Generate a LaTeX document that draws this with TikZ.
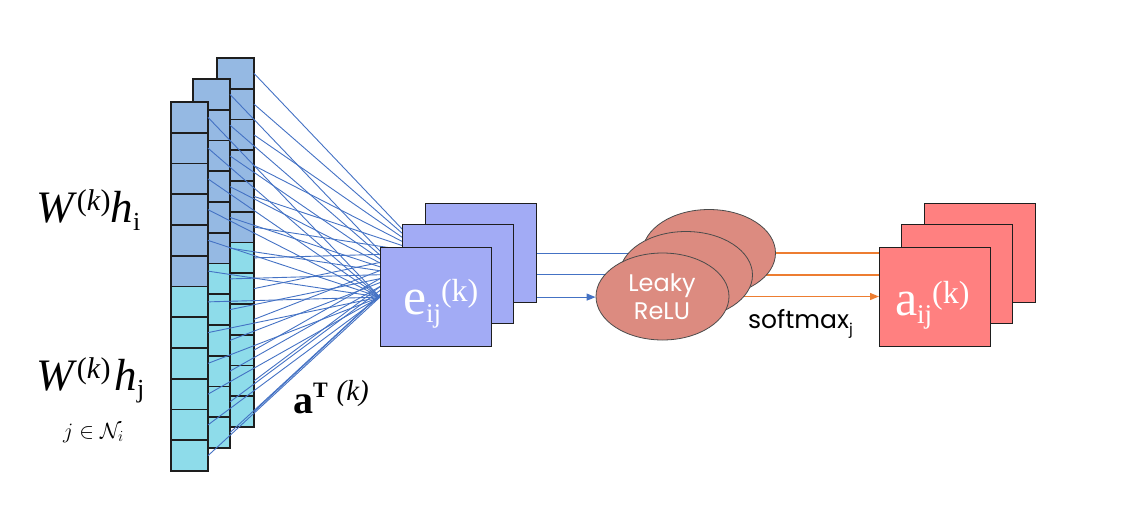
\RequirePackage{fix-cm}
\documentclass[tikz,border=0pt]{standalone}
\usepackage{fontspec}
\setmainfont{Liberation Serif}
\newfontfamily\popfont{Poppins}
\usetikzlibrary{shapes.geometric,arrows.meta}
\pgfdeclarelayer{cols}
\pgfdeclarelayer{wires}
\pgfsetlayers{cols,wires,main}
\definecolor{colBlue}{RGB}{149,185,227}
\definecolor{colCyan}{RGB}{142,220,234}
\definecolor{eFill}{RGB}{162,171,245}
\definecolor{lFill}{RGB}{220,139,128}
\definecolor{aFill}{RGB}{255,128,128}
\definecolor{wireBlue}{RGB}{68,114,196}
\definecolor{wireOrange}{RGB}{237,125,49}
\definecolor{edgeGray}{RGB}{30,30,30}
\newcommand\fs[1]{\fontsize{#1}{#1}\selectfont}
\begin{document}
\begin{tikzpicture}[x=1pt,y=-1pt,
  cell/.style={rectangle,minimum width=37pt,minimum height=30.75pt,inner sep=0pt,outer sep=0pt,anchor=north west},
  cellborder/.style={draw=edgeGray,line width=1.7pt},
  ebox/.style={rectangle,draw=edgeGray,line width=1.2pt,fill=eFill,minimum width=111pt,minimum height=99pt,inner sep=0pt,anchor=north west},
  abox/.style={rectangle,draw=edgeGray,line width=1.2pt,fill=aFill,minimum width=111pt,minimum height=99pt,inner sep=0pt,anchor=north west},
  lrelu/.style={ellipse,draw=edgeGray!80,line width=0.8pt,fill=lFill,minimum width=133pt,minimum height=87pt,inner sep=0pt},
  wire/.style={draw=wireBlue,line width=0.9pt},
  owire/.style={draw=wireOrange,line width=1.2pt},
  tip/.style={-{Triangle[length=9pt,width=7pt]}},
  txt/.style={inner sep=0pt,outer sep=0pt,anchor=base west}]
\useasboundingbox (0,0) rectangle (1121,525);

% columns of cells
\begin{pgfonlayer}{cols}
\foreach \k/\x/\y in {2/217/58, 1/193/79, 0/171/102} {
  \foreach \i in {1,...,12} {
    \pgfmathsetmacro\yy{\y+(\i-1)*30.75}
    \ifnum\i<7 \def\fc{colBlue}\else\def\fc{colCyan}\fi
    \node[cell,fill=\fc] (c\k-\i) at (\x,\yy) {};
  }
  \foreach \i in {1,...,12} {
    \draw[cellborder] (c\k-\i.north west) rectangle (c\k-\i.south east);
  }
}
\end{pgfonlayer}

% e boxes
\node[ebox] (e2) at (425,203) {};
\node[ebox] (e1) at (402,224) {};
\node[ebox] (e0) at (380,247) {};

% LeakyReLU ellipses
\node[lrelu] (l2) at (709,253) {};
\node[lrelu] (l1) at (686,275) {};
\node[lrelu] (l0) at (662.5,296.5) {};

% a boxes
\node[abox] (a2) at (924,203) {};
\node[abox] (a1) at (901,224) {};
\node[abox] (a0) at (879,247) {};

% wires
\begin{pgfonlayer}{wires}
\foreach \k in {0,1,2} {
  \foreach \i in {1,...,12} {
    \draw[wire] (c\k-\i.east) -- (e\k.west);
  }
}
\draw[wire,line width=1pt,tip] (e0.east) -- (e0.east -| l0.west);
\draw[wire,line width=1pt,tip] (e1.east) -- (e1.east -| l1.west);
\draw[wire,line width=1pt,tip] (e2.east) -- (e2.east -| l2.west);
\draw[owire,tip] (l0.east) -- (l0.east -| a0.west);
\draw[owire,tip] (l1.east) -- (l1.east -| a1.west);
\draw[owire,tip] (l2.east) -- (l2.east -| a2.west);
\end{pgfonlayer}

% labels
\node[txt] (lblWi) at (36,222) {\fs{45}\textit{W}\raisebox{12pt}{\fs{30}(\textit{k})}\textit{h}\raisebox{-8pt}{\fs{26}i}};
\node[txt] (lblWj) at (36,390) {\fs{45}\textit{W}\raisebox{12pt}{\fs{30}(\textit{k})}\hspace{4pt}\textit{h}\raisebox{-7pt}{\fs{26}j}};
\node[txt] (lblN) at (63,438) {\fs{22}$j \in \mathcal{N}_i$};
\node[txt,text=white] (lblE) at (403,314) {\fs{52}e\raisebox{-8pt}{\fs{27}ij}\raisebox{13pt}{\fs{32}(k)}};
\node[txt,text=white] (lblA) at (895,315) {\fs{50}a\raisebox{-8pt}{\fs{27}ij}\raisebox{12pt}{\fs{32}(k)}};
\node[txt] (lblAT) at (293,413) {\fs{40}\textbf{a}\raisebox{16pt}{\fs{22}\textbf{T}}\hspace{9pt}\raisebox{13pt}{\fs{29}\textit{(k)}}};
\node[inner sep=0pt,anchor=base,text=white] (lblLeaky) at (662,291) {\popfont\fs{24}Leaky};
\node[inner sep=0pt,anchor=base,text=white] (lblReLU) at (662,319) {\popfont\fs{24}ReLU};
\node[txt] (lblSM) at (748,328) {\popfont\fs{25}softmax\raisebox{-6pt}{\fs{15}j}};
\end{tikzpicture}
\end{document}
